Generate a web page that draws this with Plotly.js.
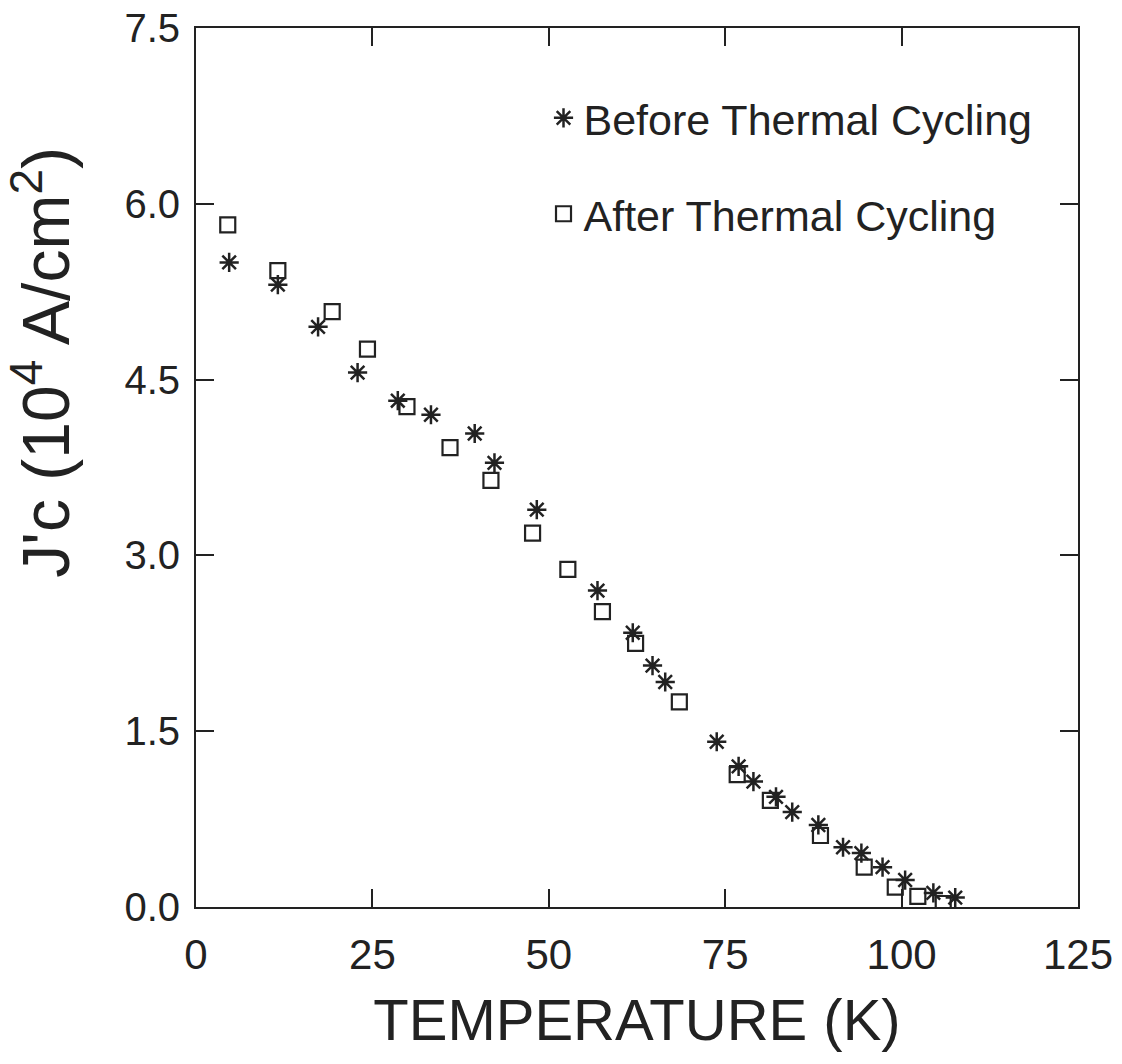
<!DOCTYPE html>
<html>
<head>
<meta charset="utf-8">
<script src="https://cdn.plot.ly/plotly-3.0.1.min.js"></script>
<style>html,body{margin:0;padding:0;background:#fff;}#chart{width:1122px;height:1064px;}</style>
</head>
<body>
<div id="chart"></div>
<script>
// Before Thermal Cycling (stars)
var beforeT = [4.7, 11.6, 17.3, 22.9, 28.6, 33.3, 39.5, 42.3, 48.3, 56.9, 61.9, 64.7, 66.5, 73.8, 76.9, 79.0, 82.2, 84.5, 88.2, 91.7, 94.3, 97.3, 100.5, 104.5, 107.6];
var beforeJ = [5.50, 5.31, 4.95, 4.56, 4.32, 4.20, 4.04, 3.79, 3.39, 2.70, 2.34, 2.06, 1.92, 1.41, 1.20, 1.07, 0.94, 0.81, 0.70, 0.51, 0.46, 0.34, 0.23, 0.12, 0.08];
// After Thermal Cycling (squares)
var afterT = [4.5, 11.6, 19.3, 24.3, 29.9, 36.0, 41.8, 47.7, 52.7, 57.6, 62.3, 68.5, 76.7, 81.4, 88.5, 94.7, 99.1, 102.3, 105.9];
var afterJ = [5.82, 5.43, 5.08, 4.76, 4.27, 3.92, 3.64, 3.19, 2.88, 2.52, 2.25, 1.75, 1.13, 0.91, 0.61, 0.34, 0.17, 0.09, 0.03];

var xTicks = [0, 25, 50, 75, 100, 125];
var yTicks = [0, 1.5, 3.0, 4.5, 6.0, 7.5];
var yTickText = ['0.0', '1.5', '3.0', '4.5', '6.0', '7.5'];

var regular = '"Liberation Sans", Arial, Helvetica, sans-serif';
var ink = '#222';

var traces = [
  {
    x: beforeT, y: beforeJ, type: 'scatter', mode: 'markers',
    name: 'Before Thermal Cycling', legendgroup: 'b',
    marker: {symbol: 'asterisk-open', size: 16, color: ink, line: {color: ink, width: 2.5}}
  },
  {
    x: afterT, y: afterJ, type: 'scatter', mode: 'markers',
    name: 'After Thermal Cycling', legendgroup: 'a',
    marker: {symbol: 'square-open', size: 15, color: ink, line: {color: ink, width: 2.2}}
  }
];

var axisCommon = {
  showline: true, linecolor: ink, linewidth: 2, mirror: 'ticks',
  ticks: 'inside', ticklen: 18, tickwidth: 2, tickcolor: ink,
  showgrid: false, zeroline: false
};

var layout = {
  width: 1122, height: 1064,
  paper_bgcolor: '#fff', plot_bgcolor: '#fff',
  margin: {l: 196, r: 44, t: 28, b: 157},
  showlegend: true,
  legend: {
    x: 0.394, y: 0.937, xanchor: 'left', yanchor: 'top',
    bgcolor: 'rgba(0,0,0,0)', borderwidth: 0,
    font: {family: regular, size: 43, color: ink},
    tracegroupgap: 37, traceorder: 'grouped', itemwidth: 30
  },
  xaxis: Object.assign({}, axisCommon, {
    range: [0, 125], tickvals: xTicks,
    tickfont: {family: regular, size: 42, color: ink},
    ticklabelstandoff: 10,
    title: {text: 'TEMPERATURE (K)', font: {family: regular, size: 58, color: ink}, standoff: 22}
  }),
  yaxis: Object.assign({}, axisCommon, {
    range: [0, 7.5], tickvals: yTicks, ticktext: yTickText,
    tickfont: {family: regular, size: 40, color: ink},
    ticklabelstandoff: 6
  }),
  annotations: [{
    text: "J'c (10<sup>4</sup> A/cm<sup>2</sup>)",
    xref: 'paper', yref: 'paper', x: -0.175, y: 0.62,
    xanchor: 'center', yanchor: 'middle', textangle: -90, showarrow: false,
    font: {family: regular, size: 66, color: ink}
  }]
};

Plotly.newPlot('chart', traces, layout, {displayModeBar: false, staticPlot: true});
</script>
</body>
</html>
